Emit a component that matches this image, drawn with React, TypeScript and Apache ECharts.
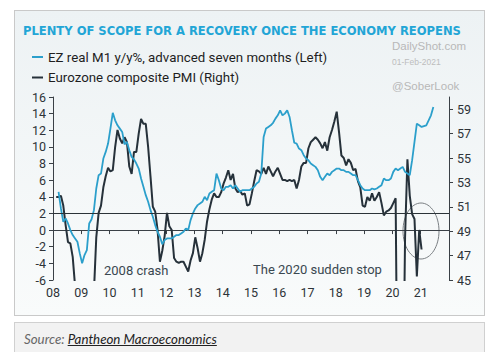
import React, { useEffect, useRef } from 'react';
import * as echarts from 'echarts';

const TITLE = 'PLENTY OF SCOPE FOR A RECOVERY ONCE THE ECONOMY REOPENS';
const M1_NAME = 'EZ real M1 y/y%, advanced seven months (Left)';
const PMI_NAME = 'Eurozone composite PMI (Right)';

// EZ real M1 y/y%, advanced seven months, monthly from Mar 2008 (left axis)
const m1StartYear = 2008;
const m1StartMonth = 3;
const m1Values = [
  4.6, 2.6, 1.0, 1.4, 0.8, 0.0, -0.6, -1.0, -1.4, -2.8,
  -4.0, -3.0, -2.4, 0.8, 1.3, 2.4, 5.0, 6.6, 6.8, 8.6, 9.4, 10.4,
  12.2, 14.1, 13.2, 12.6, 12.2, 11.8, 10.3, 10.6, 9.6, 8.8, 8.5, 8.0,
  7.4, 6.2, 5.2, 4.2, 3.4, 2.4, 1.6, 0.6, -0.2, -0.8, -1.7, -1.2,
  -1.0, -1.0, -1.0, -0.8, -0.6, -0.6, -0.4, -0.2, 0.2, 0.0, 1.2, 2.0,
  2.6, 3.0, 3.2, 3.4, 4.0, 3.6, 4.4, 4.6, 4.8, 6.8, 6.0, 5.0,
  4.8, 5.2, 5.2, 5.4, 5.0, 5.4, 5.0, 4.6, 4.8, 4.8, 4.8, 4.8,
  5.0, 5.2, 5.6, 5.8, 6.8, 11.2, 12.2, 12.4, 12.6, 12.9, 13.4, 13.8,
  14.4, 13.8, 14.0, 14.4, 13.6, 12.0, 10.5, 10.4, 9.8, 9.6, 9.0, 8.6,
  8.4, 8.0, 7.8, 7.6, 7.2, 6.4, 6.0, 6.4, 6.8, 6.6, 7.0, 7.2,
  7.4, 7.4, 7.2, 7.2, 7.0, 7.0, 6.8, 6.6, 6.6, 6.0, 5.4, 5.0,
  4.8, 4.8, 4.8, 5.0, 4.9, 5.0, 5.2, 5.4, 6.2, 6.0, 6.0, 6.2,
  7.0, 7.4, 7.2, 7.4, 7.6, 7.0, 6.8, 6.6, 8.4, 10.6, 12.8, 12.6,
  12.4, 12.5, 12.6, 13.2, 13.8, 14.8,
];

// Eurozone composite PMI, monthly from Feb 2008 (right axis)
const pmiStartYear = 2008;
const pmiStartMonth = 2;
const pmiValues = [
  51.8, 51.8, 51.9, 51.1, 49.5, 48.1, 48.0, 46.9, 44.5, 39.0, 38.2,
  38.3, 36.2, 38.3, 41.1, 43.0, 44.0, 48.5, 50.5, 51.1, 52.6, 53.5, 54.2,
  53.9, 54.0, 55.9, 57.3, 56.6, 56.2, 56.7, 56.3, 54.3, 53.7, 55.5, 55.5,
  57.0, 58.2, 57.8, 57.8, 55.9, 53.5, 51.0, 50.6, 49.1, 46.5, 47.4, 48.6,
  50.5, 49.4, 49.1, 46.8, 46.5, 46.4, 46.5, 46.5, 46.1, 45.7, 46.6, 47.2,
  48.5, 47.6, 46.5, 47.2, 48.3, 49.8, 50.8, 51.6, 52.1, 51.8, 51.8, 52.2,
  52.9, 53.4, 54.0, 53.2, 53.7, 52.5, 52.2, 52.3, 52.0, 52.1, 51.1, 51.2,
  52.1, 53.1, 54.0, 53.9, 53.7, 54.2, 53.7, 54.3, 53.9, 53.5, 53.9, 54.2,
  53.7, 53.2, 53.2, 53.1, 53.2, 53.1, 53.2, 52.5, 53.2, 54.3, 54.6, 54.6,
  55.8, 56.3, 56.5, 56.7, 56.5, 56.2, 55.8, 56.3, 55.6, 56.7, 57.3, 58.0,
  58.8, 57.1, 55.2, 55.0, 54.4, 54.9, 54.6, 54.0, 54.1, 53.1, 52.6, 51.1,
  51.0, 51.8, 51.5, 52.1, 51.5, 51.8, 52.2, 51.3, 50.3, 50.6, 50.7, 50.9,
  51.3, 51.7, 29.7, 13.6, 31.9, 48.5, 54.9, 51.9, 50.4, 50.0, 45.3, 49.1,
  47.5,
];

const yearMin = 2008;
const yearMax = 2022;
const leftMin = -6;
const leftMax = 16;
const leftStep = 2;
const rightMin = 45;
const rightMax = 60;
const rightStep = 2;
const referenceLevel = 2;

const ANNOTATION_2008 = '2008 crash';
const ANNOTATION_2020 = 'The 2020 sudden stop';

const toMonthly = (startYear: number, startMonth: number, values: number[]) =>
  values.map((v, i) => {
    const idx = startMonth - 1 + i;
    return [startYear + idx / 12 + 0.03, v];
  });

const TICK_FONT = 'Roboto, "Liberation Sans", sans-serif';
const AXIS_COLOR = '#3a4046';
const MARK_FONT = '"Liberation Sans", Arial, sans-serif';

export default function App() {
  const ref = useRef<HTMLDivElement>(null);

  useEffect(() => {
    if (!ref.current) return;
    const chart = echarts.init(ref.current, undefined, { renderer: 'svg' });
    const axisLabel = { color: '#2e3338', fontSize: 12.5, fontFamily: TICK_FONT };
    chart.setOption({
      animation: false,
      backgroundColor: 'transparent',
      title: {
        text: TITLE,
        left: 23,
        top: 24,
        padding: 0,
        textStyle: {
          color: '#22a5d6',
          fontSize: 11.55,
          lineHeight: 13,
          fontWeight: 'bold',
          fontFamily: '"DejaVu Sans", sans-serif',
        },
      },
      legend: {
        orient: 'vertical',
        left: 27,
        top: 44,
        itemWidth: 11,
        itemHeight: 2,
        itemGap: 4.5,
        icon: 'rect',
        textStyle: { color: '#1e1e1e', fontSize: 13.3, lineHeight: 16, fontFamily: TICK_FONT },
        data: [M1_NAME, PMI_NAME],
      },
      grid: { left: 53, right: 41, top: 97, bottom: 72 },
      xAxis: {
        type: 'value',
        min: yearMin,
        max: yearMax,
        interval: 1,
        axisLine: { show: true, lineStyle: { color: AXIS_COLOR, width: 1 } },
        axisTick: { show: true, length: 4, lineStyle: { color: AXIS_COLOR } },
        splitLine: { show: false },
        axisLabel: {
          ...axisLabel,
          margin: 6,
          showMaxLabel: false,
          formatter: (v: number) => (Number.isInteger(v) ? String(v).slice(2) : ''),
        },
      },
      yAxis: [
        {
          type: 'value',
          position: 'left',
          min: leftMin,
          max: leftMax,
          interval: leftStep,
          axisLine: { show: true, lineStyle: { color: AXIS_COLOR, width: 1 } },
          axisTick: { show: true, length: 4, lineStyle: { color: AXIS_COLOR } },
          splitLine: { show: false },
          axisLabel: { ...axisLabel, margin: 7 },
        },
        {
          type: 'value',
          position: 'right',
          min: rightMin,
          max: rightMax,
          interval: rightStep,
          axisLine: { show: true, lineStyle: { color: AXIS_COLOR, width: 1 } },
          axisTick: { show: true, length: 4, lineStyle: { color: AXIS_COLOR } },
          splitLine: { show: false },
          axisLabel: { ...axisLabel, margin: 8, showMaxLabel: false },
        },
      ],
      series: [
        {
          type: 'line',
          name: M1_NAME,
          yAxisIndex: 0,
          data: toMonthly(m1StartYear, m1StartMonth, m1Values),
          showSymbol: false,
          symbol: 'none',
          color: '#2b9fcb',
          lineStyle: { color: '#2b9fcb', width: 1.8 },
          z: 3,
          markLine: {
            silent: true,
            symbol: ['none', 'none'],
            label: { show: false },
            lineStyle: { color: '#2b3338', width: 1, type: 'solid' },
            data: [{ yAxis: referenceLevel }],
          },
        },
        {
          type: 'line',
          name: PMI_NAME,
          yAxisIndex: 1,
          data: toMonthly(pmiStartYear, pmiStartMonth, pmiValues),
          showSymbol: false,
          symbol: 'none',
          color: '#26313a',
          lineStyle: { color: '#26313a', width: 2 },
          z: 2,
        },
      ],
      graphic: [
        {
          type: 'text',
          left: 392,
          top: 40,
          style: { text: 'DailyShot.com', fill: '#b8b8b8', fontSize: 11.5, fontFamily: MARK_FONT },
        },
        {
          type: 'text',
          left: 392,
          top: 57,
          style: { text: '01-Feb-2021', fill: '#bdbdbd', fontSize: 8.5, fontFamily: MARK_FONT },
        },
        {
          type: 'text',
          left: 392,
          top: 80,
          style: { text: '@SoberLook', fill: '#b8b8b8', fontSize: 11.5, fontFamily: MARK_FONT },
        },
        {
          type: 'text',
          left: 104,
          top: 264,
          style: { text: ANNOTATION_2008, fill: '#3a4850', fontSize: 13, fontFamily: TICK_FONT },
        },
        {
          type: 'text',
          left: 253,
          top: 263,
          style: { text: ANNOTATION_2020, fill: '#3a4850', fontSize: 13, fontFamily: TICK_FONT },
        },
        {
          type: 'ellipse',
          shape: { cx: 421, cy: 231, rx: 18, ry: 28 },
          style: { fill: 'none', stroke: '#7a7f83', lineWidth: 1 },
        },
      ],
    });
    return () => chart.dispose();
  }, []);

  return (
    <div style={{ position: 'fixed', left: 0, top: 0, width: 490, height: 352, background: '#ffffff', overflow: 'hidden' }}>
      <div
        style={{
          position: 'absolute',
          left: 14,
          top: 10,
          width: 469,
          height: 304,
          border: '1px solid #c9c9c9',
          background: 'linear-gradient(#edf2f4, #f9fbfb)',
        }}
      />
      <div ref={ref} style={{ position: 'absolute', left: 0, top: 0, width: 490, height: 352 }} />
      <div
        style={{
          position: 'absolute',
          left: 14,
          top: 322,
          width: 469,
          height: 40,
          border: '1px solid #d0d0d0',
          background: '#f2f2f2',
          fontFamily: 'Lato, sans-serif',
          fontStyle: 'italic',
          fontSize: 13.3,
        }}
      >
        <div style={{ position: 'absolute', left: 9, top: 8 }}>
          <span style={{ color: '#666' }}>Source: </span>
          <span style={{ color: '#222', textDecoration: 'underline' }}>Pantheon Macroeconomics</span>
        </div>
      </div>
    </div>
  );
}
